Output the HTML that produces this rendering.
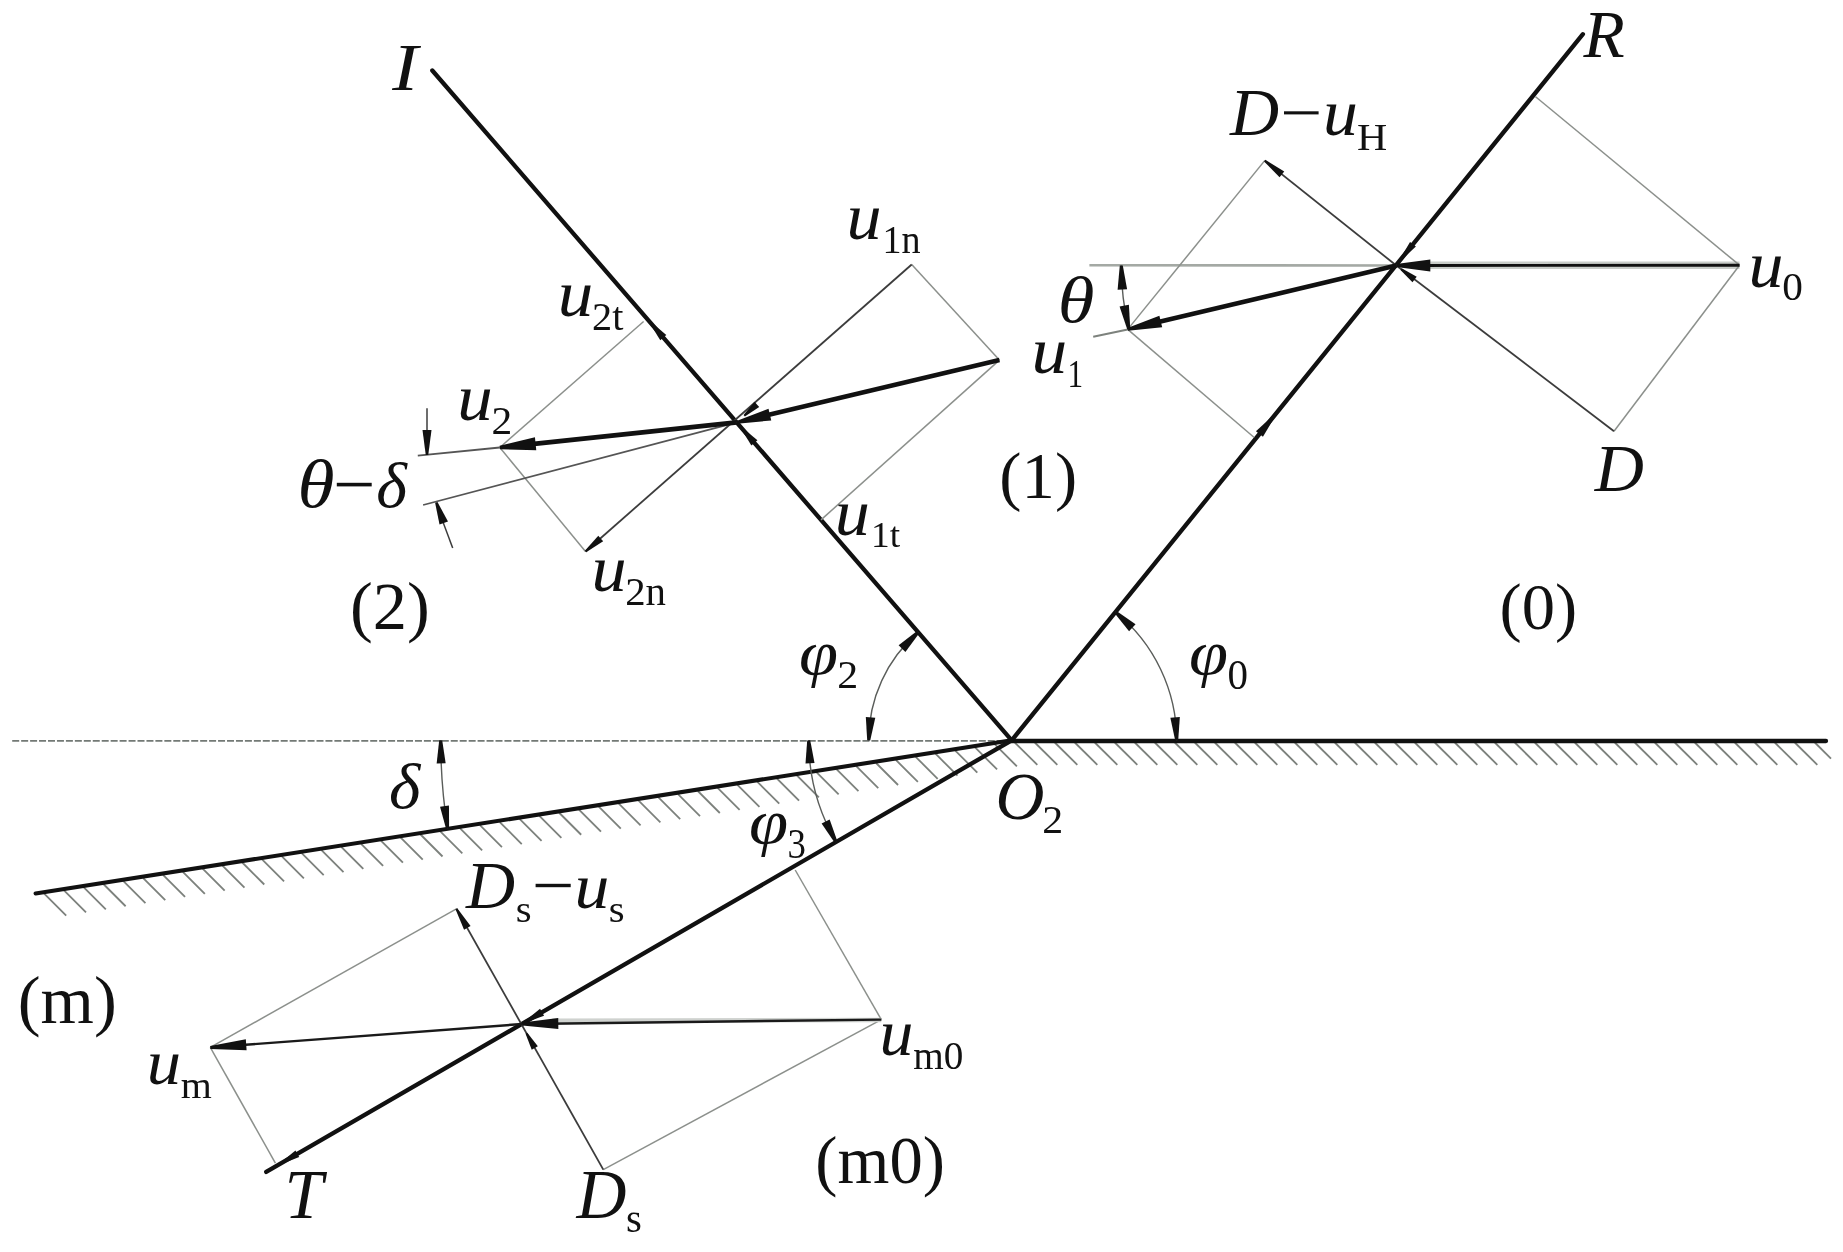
<!DOCTYPE html>
<html><head><meta charset="utf-8"><style>
html,body{margin:0;padding:0;background:#fff;width:1843px;height:1252px;overflow:hidden}
svg{display:block;will-change:transform}
text{font-family:"Liberation Serif",serif;fill:#111}
</style></head><body>
<svg width="1843" height="1252" viewBox="0 0 1843 1252">
<rect width="1843" height="1252" fill="#fff"/>
<line x1="1014.8" y1="742.5" x2="1037.3" y2="764.8" stroke="#7c817c" stroke-width="1.8"/>
<line x1="1034.8" y1="742.5" x2="1057.3" y2="764.8" stroke="#7c817c" stroke-width="1.8"/>
<line x1="1054.8" y1="742.5" x2="1077.3" y2="764.8" stroke="#7c817c" stroke-width="1.8"/>
<line x1="1074.8" y1="742.5" x2="1097.3" y2="764.8" stroke="#7c817c" stroke-width="1.8"/>
<line x1="1094.8" y1="742.5" x2="1117.3" y2="764.8" stroke="#7c817c" stroke-width="1.8"/>
<line x1="1114.8" y1="742.5" x2="1137.3" y2="764.8" stroke="#7c817c" stroke-width="1.8"/>
<line x1="1134.8" y1="742.5" x2="1157.3" y2="764.8" stroke="#7c817c" stroke-width="1.8"/>
<line x1="1154.8" y1="742.5" x2="1177.3" y2="764.8" stroke="#7c817c" stroke-width="1.8"/>
<line x1="1174.8" y1="742.5" x2="1197.3" y2="764.8" stroke="#7c817c" stroke-width="1.8"/>
<line x1="1194.8" y1="742.5" x2="1217.3" y2="764.8" stroke="#7c817c" stroke-width="1.8"/>
<line x1="1214.8" y1="742.5" x2="1237.3" y2="764.8" stroke="#7c817c" stroke-width="1.8"/>
<line x1="1234.8" y1="742.5" x2="1257.3" y2="764.8" stroke="#7c817c" stroke-width="1.8"/>
<line x1="1254.8" y1="742.5" x2="1277.3" y2="764.8" stroke="#7c817c" stroke-width="1.8"/>
<line x1="1274.8" y1="742.5" x2="1297.3" y2="764.8" stroke="#7c817c" stroke-width="1.8"/>
<line x1="1294.8" y1="742.5" x2="1317.3" y2="764.8" stroke="#7c817c" stroke-width="1.8"/>
<line x1="1314.8" y1="742.5" x2="1337.3" y2="764.8" stroke="#7c817c" stroke-width="1.8"/>
<line x1="1334.8" y1="742.5" x2="1357.3" y2="764.8" stroke="#7c817c" stroke-width="1.8"/>
<line x1="1354.8" y1="742.5" x2="1377.3" y2="764.8" stroke="#7c817c" stroke-width="1.8"/>
<line x1="1374.8" y1="742.5" x2="1397.3" y2="764.8" stroke="#7c817c" stroke-width="1.8"/>
<line x1="1394.8" y1="742.5" x2="1417.3" y2="764.8" stroke="#7c817c" stroke-width="1.8"/>
<line x1="1414.8" y1="742.5" x2="1437.3" y2="764.8" stroke="#7c817c" stroke-width="1.8"/>
<line x1="1434.8" y1="742.5" x2="1457.3" y2="764.8" stroke="#7c817c" stroke-width="1.8"/>
<line x1="1454.8" y1="742.5" x2="1477.3" y2="764.8" stroke="#7c817c" stroke-width="1.8"/>
<line x1="1474.8" y1="742.5" x2="1497.3" y2="764.8" stroke="#7c817c" stroke-width="1.8"/>
<line x1="1494.8" y1="742.5" x2="1517.3" y2="764.8" stroke="#7c817c" stroke-width="1.8"/>
<line x1="1514.8" y1="742.5" x2="1537.3" y2="764.8" stroke="#7c817c" stroke-width="1.8"/>
<line x1="1534.8" y1="742.5" x2="1557.3" y2="764.8" stroke="#7c817c" stroke-width="1.8"/>
<line x1="1554.8" y1="742.5" x2="1577.3" y2="764.8" stroke="#7c817c" stroke-width="1.8"/>
<line x1="1574.8" y1="742.5" x2="1597.3" y2="764.8" stroke="#7c817c" stroke-width="1.8"/>
<line x1="1594.8" y1="742.5" x2="1617.3" y2="764.8" stroke="#7c817c" stroke-width="1.8"/>
<line x1="1614.8" y1="742.5" x2="1637.3" y2="764.8" stroke="#7c817c" stroke-width="1.8"/>
<line x1="1634.8" y1="742.5" x2="1657.3" y2="764.8" stroke="#7c817c" stroke-width="1.8"/>
<line x1="1654.8" y1="742.5" x2="1677.3" y2="764.8" stroke="#7c817c" stroke-width="1.8"/>
<line x1="1674.8" y1="742.5" x2="1697.3" y2="764.8" stroke="#7c817c" stroke-width="1.8"/>
<line x1="1694.8" y1="742.5" x2="1717.3" y2="764.8" stroke="#7c817c" stroke-width="1.8"/>
<line x1="1714.8" y1="742.5" x2="1737.3" y2="764.8" stroke="#7c817c" stroke-width="1.8"/>
<line x1="1734.8" y1="742.5" x2="1757.3" y2="764.8" stroke="#7c817c" stroke-width="1.8"/>
<line x1="1754.8" y1="742.5" x2="1777.3" y2="764.8" stroke="#7c817c" stroke-width="1.8"/>
<line x1="1774.8" y1="742.5" x2="1797.3" y2="764.8" stroke="#7c817c" stroke-width="1.8"/>
<line x1="1794.8" y1="742.5" x2="1817.3" y2="764.8" stroke="#7c817c" stroke-width="1.8"/>
<line x1="1814.8" y1="742.5" x2="1831" y2="758.56" stroke="#7c817c" stroke-width="1.8"/>
<line x1="44.2" y1="893.57" x2="66.2" y2="915.57" stroke="#7c817c" stroke-width="1.8"/>
<line x1="64.01" y1="890.46" x2="86.01" y2="912.46" stroke="#7c817c" stroke-width="1.8"/>
<line x1="83.81" y1="887.35" x2="105.81" y2="909.35" stroke="#7c817c" stroke-width="1.8"/>
<line x1="103.62" y1="884.25" x2="125.62" y2="906.25" stroke="#7c817c" stroke-width="1.8"/>
<line x1="123.42" y1="881.14" x2="145.43" y2="903.14" stroke="#7c817c" stroke-width="1.8"/>
<line x1="143.23" y1="878.03" x2="165.23" y2="900.03" stroke="#7c817c" stroke-width="1.8"/>
<line x1="163.04" y1="874.92" x2="185.04" y2="896.92" stroke="#7c817c" stroke-width="1.8"/>
<line x1="182.84" y1="871.81" x2="204.84" y2="893.81" stroke="#7c817c" stroke-width="1.8"/>
<line x1="202.65" y1="868.7" x2="224.65" y2="890.7" stroke="#7c817c" stroke-width="1.8"/>
<line x1="222.46" y1="865.59" x2="244.46" y2="887.59" stroke="#7c817c" stroke-width="1.8"/>
<line x1="242.26" y1="862.49" x2="264.26" y2="884.49" stroke="#7c817c" stroke-width="1.8"/>
<line x1="262.07" y1="859.38" x2="284.07" y2="881.38" stroke="#7c817c" stroke-width="1.8"/>
<line x1="281.88" y1="856.27" x2="303.88" y2="878.27" stroke="#7c817c" stroke-width="1.8"/>
<line x1="301.68" y1="853.16" x2="323.68" y2="875.16" stroke="#7c817c" stroke-width="1.8"/>
<line x1="321.49" y1="850.05" x2="343.49" y2="872.05" stroke="#7c817c" stroke-width="1.8"/>
<line x1="341.29" y1="846.94" x2="363.29" y2="868.94" stroke="#7c817c" stroke-width="1.8"/>
<line x1="361.1" y1="843.83" x2="383.1" y2="865.83" stroke="#7c817c" stroke-width="1.8"/>
<line x1="380.91" y1="840.73" x2="402.91" y2="862.73" stroke="#7c817c" stroke-width="1.8"/>
<line x1="400.71" y1="837.62" x2="422.71" y2="859.62" stroke="#7c817c" stroke-width="1.8"/>
<line x1="420.52" y1="834.51" x2="442.52" y2="856.51" stroke="#7c817c" stroke-width="1.8"/>
<line x1="440.32" y1="831.4" x2="462.32" y2="853.4" stroke="#7c817c" stroke-width="1.8"/>
<line x1="460.13" y1="828.29" x2="482.13" y2="850.29" stroke="#7c817c" stroke-width="1.8"/>
<line x1="479.94" y1="825.18" x2="501.94" y2="847.18" stroke="#7c817c" stroke-width="1.8"/>
<line x1="499.74" y1="822.07" x2="521.74" y2="844.07" stroke="#7c817c" stroke-width="1.8"/>
<line x1="519.55" y1="818.97" x2="541.55" y2="840.97" stroke="#7c817c" stroke-width="1.8"/>
<line x1="539.36" y1="815.86" x2="561.36" y2="837.86" stroke="#7c817c" stroke-width="1.8"/>
<line x1="559.16" y1="812.75" x2="581.16" y2="834.75" stroke="#7c817c" stroke-width="1.8"/>
<line x1="578.97" y1="809.64" x2="600.97" y2="831.64" stroke="#7c817c" stroke-width="1.8"/>
<line x1="598.77" y1="806.53" x2="620.77" y2="828.53" stroke="#7c817c" stroke-width="1.8"/>
<line x1="618.58" y1="803.42" x2="640.58" y2="825.42" stroke="#7c817c" stroke-width="1.8"/>
<line x1="638.39" y1="800.31" x2="660.39" y2="822.31" stroke="#7c817c" stroke-width="1.8"/>
<line x1="658.19" y1="797.2" x2="680.19" y2="819.2" stroke="#7c817c" stroke-width="1.8"/>
<line x1="678" y1="794.1" x2="700" y2="816.1" stroke="#7c817c" stroke-width="1.8"/>
<line x1="697.81" y1="790.99" x2="719.81" y2="812.99" stroke="#7c817c" stroke-width="1.8"/>
<line x1="717.61" y1="787.88" x2="739.61" y2="809.88" stroke="#7c817c" stroke-width="1.8"/>
<line x1="737.42" y1="784.77" x2="759.42" y2="806.77" stroke="#7c817c" stroke-width="1.8"/>
<line x1="757.23" y1="781.66" x2="779.23" y2="803.66" stroke="#7c817c" stroke-width="1.8"/>
<line x1="777.03" y1="778.55" x2="799.03" y2="800.55" stroke="#7c817c" stroke-width="1.8"/>
<line x1="796.84" y1="775.44" x2="818.84" y2="797.44" stroke="#7c817c" stroke-width="1.8"/>
<line x1="816.64" y1="772.34" x2="838.64" y2="794.34" stroke="#7c817c" stroke-width="1.8"/>
<line x1="836.45" y1="769.23" x2="858.45" y2="791.23" stroke="#7c817c" stroke-width="1.8"/>
<line x1="856.26" y1="766.12" x2="878.26" y2="788.12" stroke="#7c817c" stroke-width="1.8"/>
<line x1="876.06" y1="763.01" x2="898.06" y2="785.01" stroke="#7c817c" stroke-width="1.8"/>
<line x1="895.87" y1="759.9" x2="917.87" y2="781.9" stroke="#7c817c" stroke-width="1.8"/>
<line x1="915.67" y1="756.79" x2="937.67" y2="778.79" stroke="#7c817c" stroke-width="1.8"/>
<line x1="935.48" y1="753.68" x2="957.48" y2="775.68" stroke="#7c817c" stroke-width="1.8"/>
<line x1="955.29" y1="750.58" x2="977.29" y2="772.58" stroke="#7c817c" stroke-width="1.8"/>
<line x1="975.09" y1="747.47" x2="997.09" y2="769.47" stroke="#7c817c" stroke-width="1.8"/>
<line x1="994.9" y1="744.36" x2="1016.9" y2="766.36" stroke="#7c817c" stroke-width="1.8"/>
<line x1="12.2" y1="740.8" x2="1011.7" y2="740.8" stroke="#737975" stroke-width="1.8" stroke-dasharray="7 1.95"/>
<line x1="1010.7" y1="741" x2="1826" y2="741" stroke="#111" stroke-width="4.3" stroke-linecap="round"/>
<line x1="35.6" y1="893.5" x2="1011.7" y2="740.3" stroke="#111" stroke-width="4.1" stroke-linecap="round"/>
<line x1="432.3" y1="70.5" x2="1011.7" y2="740.3" stroke="#111" stroke-width="4.3" stroke-linecap="round"/>
<line x1="1582.9" y1="34.2" x2="1011.7" y2="740.3" stroke="#111" stroke-width="4.3" stroke-linecap="round"/>
<line x1="266.2" y1="1171.9" x2="1011.7" y2="740.3" stroke="#111" stroke-width="4.3" stroke-linecap="round"/>
<line x1="1089.4" y1="265.3" x2="1396.3" y2="265.5" stroke="#a4a9a4" stroke-width="2.6"/>
<line x1="1426.3" y1="265.3" x2="1739.5" y2="265.3" stroke="#c9cdc9" stroke-width="7.5"/>
<line x1="1535.3" y1="96.5" x2="1739.5" y2="265.2" stroke="#8c908c" stroke-width="1.5"/>
<line x1="1739.5" y1="265.2" x2="1614" y2="431.2" stroke="#8c908c" stroke-width="1.5"/>
<line x1="1396.3" y1="265.5" x2="1614" y2="431.2" stroke="#3c3c3c" stroke-width="1.8"/>
<line x1="1396.3" y1="265.5" x2="1264.7" y2="160.6" stroke="#3c3c3c" stroke-width="1.8"/>
<line x1="1264.7" y1="160.6" x2="1127.7" y2="329.4" stroke="#8c908c" stroke-width="1.5"/>
<line x1="1127.7" y1="329.4" x2="1254.2" y2="437.5" stroke="#8c908c" stroke-width="1.5"/>
<line x1="1127.7" y1="329.4" x2="1093.2" y2="336.8" stroke="#7d827d" stroke-width="2.0"/>
<line x1="1739.5" y1="265.2" x2="1421.3" y2="265.48" stroke="#111" stroke-width="2.9"/>
<polygon points="1396.3,264 1430.29,259.47 1430.31,271.47 1396.3,267" fill="#111"/>
<line x1="1396.3" y1="265.5" x2="1152.02" y2="323.61" stroke="#111" stroke-width="4.6"/>
<polygon points="1127.35,327.94 1159.39,315.69 1162.17,327.37 1128.05,330.86" fill="#111"/>
<polygon points="1265.32,159.82 1284.24,171.38 1279.57,177.25 1264.08,161.38" fill="#111"/>
<polygon points="1401.68,268.34 1416.72,276.65 1412.48,282.22 1400.47,269.93" fill="#111"/>
<polygon points="1401.31,256.69 1410.06,241.9 1415.89,246.62 1403.25,258.26" fill="#111"/>
<polygon points="1273.2,419.42 1262.96,436.86 1255.96,431.2 1270.87,417.54" fill="#111"/>
<path d="M1128.77 329.15 A275 275 0 0 1 1121.3 265.5" fill="none" stroke="#5a5d5a" stroke-width="1.4"/>
<polygon points="1122.8,265.43 1127.09,289.27 1117.6,289.68 1119.8,265.57" fill="#111"/>
<polygon points="1127.29,329.43 1119.57,306.47 1128.9,304.68 1130.24,328.86" fill="#111"/>
<line x1="911.7" y1="264.5" x2="999.4" y2="360.1" stroke="#8c908c" stroke-width="1.5"/>
<line x1="999.4" y1="360.1" x2="821" y2="519.85" stroke="#8c908c" stroke-width="1.5"/>
<line x1="911.7" y1="264.5" x2="585.5" y2="551.5" stroke="#3c3c3c" stroke-width="1.8"/>
<line x1="643.6" y1="321.5" x2="499.8" y2="447.5" stroke="#8c908c" stroke-width="1.5"/>
<line x1="499.8" y1="447.5" x2="585.5" y2="551.5" stroke="#8c908c" stroke-width="1.5"/>
<line x1="499.8" y1="447.5" x2="417.8" y2="455.6" stroke="#555" stroke-width="1.8"/>
<line x1="736.8" y1="422.4" x2="423.1" y2="505" stroke="#555" stroke-width="1.8"/>
<line x1="999.4" y1="360.1" x2="761.12" y2="416.63" stroke="#111" stroke-width="4.6"/>
<polygon points="736.45,420.94 768.5,408.71 771.27,420.39 737.15,423.86" fill="#111"/>
<line x1="736.8" y1="422.4" x2="524.66" y2="444.87" stroke="#111" stroke-width="4.6"/>
<polygon points="499.62,445.76 534.92,437.24 536.28,450.17 499.98,449.24" fill="#111"/>
<polygon points="584.85,550.74 598.28,535.67 603.15,541.37 586.15,552.26" fill="#111"/>
<polygon points="743.55,414.96 754.5,401.71 759.19,406.9 744.89,416.44" fill="#111"/>
<polygon points="744.23,429.19 757.44,440.25 751.38,445.48 742.34,430.83" fill="#111"/>
<polygon points="653.1,323.84 666.3,334.9 660.25,340.13 651.21,325.47" fill="#111"/>
<line x1="427" y1="408.2" x2="427" y2="435" stroke="#3c3c3c" stroke-width="1.5"/>
<polygon points="425.75,455 422.5,430 431.5,430 428.25,455" fill="#111"/>
<line x1="452.7" y1="547.9" x2="440" y2="514" stroke="#3c3c3c" stroke-width="1.5"/>
<polygon points="437.48,501.98 447.99,521.57 439.53,524.62 435.12,502.82" fill="#111"/>
<line x1="795.2" y1="870" x2="881.3" y2="1019.6" stroke="#8c908c" stroke-width="1.5"/>
<line x1="881.3" y1="1019.6" x2="603.3" y2="1169.6" stroke="#8c908c" stroke-width="1.5"/>
<line x1="456.4" y1="908.8" x2="210.3" y2="1047.4" stroke="#8c908c" stroke-width="1.5"/>
<line x1="210.3" y1="1047.4" x2="275.4" y2="1163.1" stroke="#8c908c" stroke-width="1.5"/>
<line x1="603.3" y1="1169.6" x2="456.4" y2="908.8" stroke="#3c3c3c" stroke-width="1.8"/>
<line x1="552.3" y1="1020.7" x2="881.3" y2="1019.9" stroke="#cfd2cf" stroke-width="4.5"/>
<line x1="881.3" y1="1019.6" x2="547.3" y2="1023.69" stroke="#1a1a1a" stroke-width="2.4"/>
<polygon points="522.28,1022.5 558.23,1018.06 558.36,1029.06 522.32,1025.5" fill="#111"/>
<line x1="522.3" y1="1024" x2="235.23" y2="1045.53" stroke="#1a1a1a" stroke-width="2.4"/>
<polygon points="210.19,1045.9 245.79,1039.22 246.61,1050.19 210.41,1048.9" fill="#111"/>
<polygon points="457.27,908.3 470.58,926.03 464.07,929.76 455.53,909.3" fill="#111"/>
<polygon points="527.31,1032.65 537.83,1046.24 531.73,1049.67 525.57,1033.63" fill="#111"/>
<polygon points="526.71,1019.64 540.04,1008.74 544.05,1015.66 527.96,1021.8" fill="#111"/>
<polygon points="282.88,1160.8 295.48,1150.62 299.23,1157.11 284.13,1162.96" fill="#111"/>
<path d="M1176.7 740.3 A165 165 0 0 0 1115.47 612.02" fill="none" stroke="#5a5d5a" stroke-width="1.4"/>
<polygon points="1175.2,740.4 1170.36,717.69 1179.84,717.03 1178.2,740.2" fill="#111"/>
<polygon points="1116.5,610.92 1135.54,624.22 1129.07,631.17 1114.45,613.12" fill="#111"/>
<path d="M918.15 632.15 A143 143 0 0 0 868.7 740.3" fill="none" stroke="#5a5d5a" stroke-width="1.4"/>
<polygon points="919.22,633.2 905.4,651.88 898.63,645.21 917.08,631.1" fill="#111"/>
<polygon points="867.2,740.18 865.81,716.99 875.28,717.76 870.2,740.42" fill="#111"/>
<path d="M808.7 740.3 A203 203 0 0 0 836.02 842.01" fill="none" stroke="#5a5d5a" stroke-width="1.4"/>
<polygon points="810.2,740.22 814.5,763.01 805.51,763.52 807.2,740.38" fill="#111"/>
<polygon points="834.68,842.69 821.62,823.51 829.66,819.45 837.36,841.33" fill="#111"/>
<path d="M440.7 740.3 A571 571 0 0 0 447.61 828.84" fill="none" stroke="#5a5d5a" stroke-width="1.4"/>
<polygon points="442.2,740.27 445.66,763.2 436.66,763.39 439.2,740.33" fill="#111"/>
<polygon points="446.12,829.04 440.04,806.65 448.96,805.44 449.09,828.63" fill="#111"/>
<text transform="translate(392.2 90) scale(1.129 1)" font-size="68.57" font-style="italic">I</text>
<text transform="translate(1583.56 57) scale(0.987 1)" font-size="68.42" font-style="italic">R</text>
<text transform="translate(1230.06 135.07) scale(0.994 1)" font-size="68.37" font-style="italic">D</text>
<rect x="1284" y="111.3" width="34.6" height="3.1" fill="#111"/>
<text transform="translate(1322.92 135.43) scale(1.067 1)" font-size="65.43" font-style="italic">u</text>
<text transform="translate(1356.99 149.8) scale(1.079 1)" font-size="38.79" font-style="normal">H</text>
<text transform="translate(1748.51 287.14) scale(1.074 1)" font-size="65.22" font-style="italic">u</text>
<text transform="translate(1782.23 300.4) scale(1.013 1)" font-size="40.75" font-style="normal">0</text>
<text transform="translate(1057.75 321.95) scale(1.129 1)" font-size="66.15" font-style="italic">θ</text>
<text transform="translate(1031.54 373.33) scale(1.093 1)" font-size="65.43" font-style="italic">u</text>
<text transform="translate(1067.55 387) scale(0.800 1)" font-size="39.08" font-style="normal">1</text>
<text transform="translate(846.5 239.03) scale(1.074 1)" font-size="65.43" font-style="italic">u</text>
<text transform="translate(882.55 252.7) scale(0.964 1)" font-size="39.54" font-style="normal">1n</text>
<text transform="translate(999.37 497.97) scale(1.004 1)" font-size="66.39" font-style="normal">(1)</text>
<text transform="translate(834.8 534.83) scale(1.064 1)" font-size="66.07" font-style="italic">u</text>
<text transform="translate(871.01 547.05) scale(1.036 1)" font-size="36.12" font-style="normal">1t</text>
<text transform="translate(557.66 316.34) scale(1.089 1)" font-size="65.22" font-style="italic">u</text>
<text transform="translate(592.03 330.11) scale(1.005 1)" font-size="40.04" font-style="normal">2t</text>
<text transform="translate(457.36 420.44) scale(1.089 1)" font-size="65.22" font-style="italic">u</text>
<text transform="translate(491.58 434) scale(1.046 1)" font-size="39.57" font-style="normal">2</text>
<text transform="translate(297.52 507.05) scale(1.126 1)" font-size="67.00" font-style="italic">θ</text>
<rect x="336.8" y="482.8" width="34.9" height="3.6" fill="#111"/>
<text transform="translate(376.37 507.08) scale(1.043 1)" font-size="63.23" font-style="italic">δ</text>
<text transform="translate(591.6 591.04) scale(1.081 1)" font-size="65.01" font-style="italic">u</text>
<text transform="translate(625.21 605) scale(1.012 1)" font-size="40.33" font-style="normal">2n</text>
<text transform="translate(349.89 628.9) scale(1.019 1)" font-size="67.16" font-style="normal">(2)</text>
<text transform="translate(1499.47 628.64) scale(1.008 1)" font-size="66.06" font-style="normal">(0)</text>
<text transform="translate(799.1 674.41) scale(1.105 1)" font-size="63.84" font-style="italic">φ</text>
<text transform="translate(837.26 688) scale(1.035 1)" font-size="40.48" font-style="normal">2</text>
<text transform="translate(1189.1 674.41) scale(1.105 1)" font-size="63.84" font-style="italic">φ</text>
<text transform="translate(1227.54 688.59) scale(0.989 1)" font-size="41.49" font-style="normal">0</text>
<text transform="translate(995.59 819.13) scale(0.995 1)" font-size="68.17" font-style="italic">O</text>
<text transform="translate(1042.36 833) scale(1.039 1)" font-size="40.33" font-style="normal">2</text>
<text transform="translate(388.93 808.38) scale(1.060 1)" font-size="63.51" font-style="italic">δ</text>
<text transform="translate(748.89 843.21) scale(1.108 1)" font-size="63.84" font-style="italic">φ</text>
<text transform="translate(787.44 857.7) scale(0.893 1)" font-size="41.23" font-style="normal">3</text>
<text transform="translate(466.06 908.07) scale(1.005 1)" font-size="67.61" font-style="italic">D</text>
<text transform="translate(515.83 921.52) scale(1.053 1)" font-size="38.67" font-style="normal">s</text>
<rect x="535.6" y="883.8" width="35.1" height="3.4" fill="#111"/>
<text transform="translate(574.52 907.95) scale(1.084 1)" font-size="64.37" font-style="italic">u</text>
<text transform="translate(608.63 921.52) scale(1.053 1)" font-size="38.67" font-style="normal">s</text>
<text transform="translate(17.79 1022.62) scale(1.029 1)" font-size="66.61" font-style="normal">(m)</text>
<text transform="translate(146.78 1083.86) scale(1.091 1)" font-size="62.88" font-style="italic">u</text>
<text transform="translate(180.66 1097.7) scale(1.069 1)" font-size="37.35" font-style="normal">m</text>
<text transform="translate(879.42 1055.24) scale(1.051 1)" font-size="64.58" font-style="italic">u</text>
<text transform="translate(913.18 1069.22) scale(0.999 1)" font-size="39.27" font-style="normal">m0</text>
<text transform="translate(815.37 1182.85) scale(0.996 1)" font-size="66.94" font-style="normal">(m0)</text>
<text transform="translate(284.47 1218.3) scale(0.997 1)" font-size="69.49" font-style="italic">T</text>
<text transform="translate(576.58 1218.16) scale(0.999 1)" font-size="69.28" font-style="italic">D</text>
<text transform="translate(625.93 1231.61) scale(1.030 1)" font-size="39.50" font-style="normal">s</text>
<text transform="translate(1594.86 490.67) scale(1.002 1)" font-size="67.91" font-style="italic">D</text>
</svg>
</body></html>
